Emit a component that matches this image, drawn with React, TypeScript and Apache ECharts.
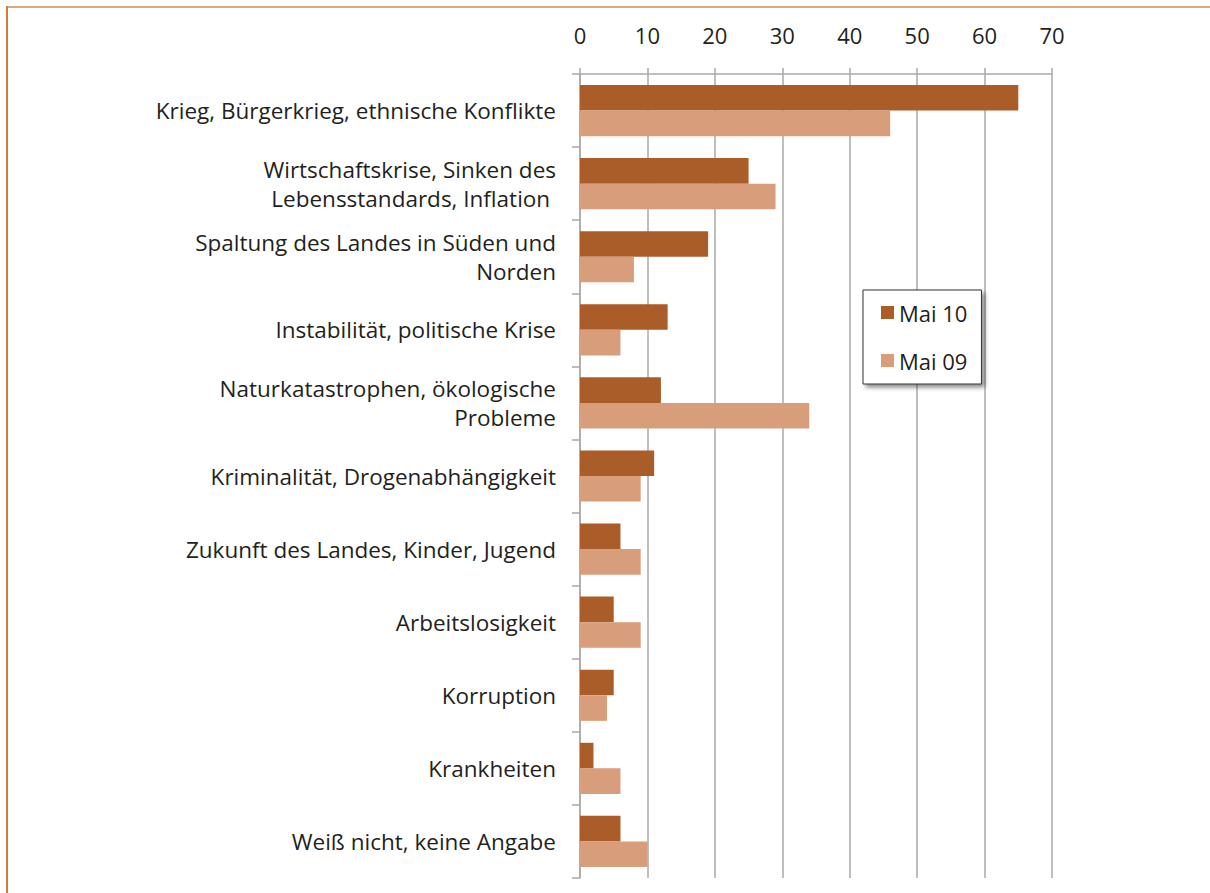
import React, { useEffect, useRef } from "react";
import * as echarts from "echarts";

const categories = [
  "Krieg, Bürgerkrieg, ethnische Konflikte",
  "Wirtschaftskrise, Sinken des\nLebensstandards, Inflation ",
  "Spaltung des Landes in Süden und\nNorden",
  "Instabilität, politische Krise",
  "Naturkatastrophen, ökologische\nProbleme",
  "Kriminalität, Drogenabhängigkeit",
  "Zukunft des Landes, Kinder, Jugend",
  "Arbeitslosigkeit",
  "Korruption",
  "Krankheiten",
  "Weiß nicht, keine Angabe",
];
const mai10 = [65, 25, 19, 13, 12, 11, 6, 5, 5, 2, 6];
const mai09 = [46, 29, 8, 6, 34, 9, 9, 9, 4, 6, 10];
const seriesNames = ["Mai 10", "Mai 09"];

const FONT = "Open Sans";
const TEXT = "#231F20";
const GRID = "#A9A9A9";

export default function App() {
  const ref = useRef<HTMLDivElement>(null);
  useEffect(() => {
    if (!ref.current) return;
    const chart = echarts.init(ref.current, null, { renderer: "svg" });
    chart.setOption({
      animation: false,
      backgroundColor: "#ffffff",
      textStyle: { fontFamily: FONT },
      grid: { left: 580, top: 74, right: 158, bottom: 15, containLabel: false },
      legend: {
        data: seriesNames,
        orient: "vertical",
        left: 863,
        top: 290,
        icon: "rect",
        itemWidth: 13,
        itemHeight: 13,
        itemGap: 25,
        itemStyle: { borderWidth: 0 },
        padding: [11, 14, 12, 18],
        backgroundColor: "#ffffff",
        borderColor: "#333333",
        borderWidth: 1,
        shadowColor: "rgba(0,0,0,0.45)",
        shadowBlur: 4,
        shadowOffsetX: 3,
        shadowOffsetY: 3,
        textStyle: { fontFamily: FONT, fontSize: 22, color: TEXT, lineHeight: 23 },
      },
      xAxis: {
        type: "value",
        position: "top",
        min: 0,
        max: 70,
        interval: 10,
        axisLine: { show: true, lineStyle: { color: GRID, width: 1.5 } },
        axisTick: { show: true, length: 6, lineStyle: { color: GRID, width: 1.5 } },
        splitLine: { show: true, lineStyle: { color: GRID, width: 1.5 } },
        axisLabel: { fontFamily: FONT, fontSize: 22, color: TEXT, margin: 28 },
      },
      yAxis: {
        type: "category",
        data: categories,
        inverse: true,
        axisLine: { show: true, lineStyle: { color: GRID, width: 1.5 } },
        axisTick: { show: true, length: 8, lineStyle: { color: GRID, width: 1.5 } },
        axisLabel: {
          fontFamily: FONT,
          fontSize: 22.5,
          color: TEXT,
          margin: 24,
          lineHeight: 29,
          align: "right",
        },
      },
      series: [
        {
          name: seriesNames[0],
          type: "bar",
          data: mai10,
          itemStyle: { color: "#AA5D28" },
          barGap: "0%",
          barCategoryGap: "30%",
        },
        {
          name: seriesNames[1],
          type: "bar",
          data: mai09,
          itemStyle: { color: "#D89D7A" },
          barGap: "0%",
          barCategoryGap: "30%",
        },
      ],
      graphic: [
        {
          type: "line",
          shape: { x1: 6, y1: 7, x2: 1210, y2: 7 },
          style: { stroke: "#DDA67D", lineWidth: 2 },
        },
        {
          type: "line",
          shape: { x1: 7, y1: 6, x2: 7, y2: 893 },
          style: { stroke: "#D47B3A", lineWidth: 2 },
        },
      ],
    });
    return () => chart.dispose();
  }, []);
  return (
    <div
      ref={ref}
      style={{ position: "fixed", left: 0, top: 0, width: 1210, height: 893 }}
    />
  );
}
